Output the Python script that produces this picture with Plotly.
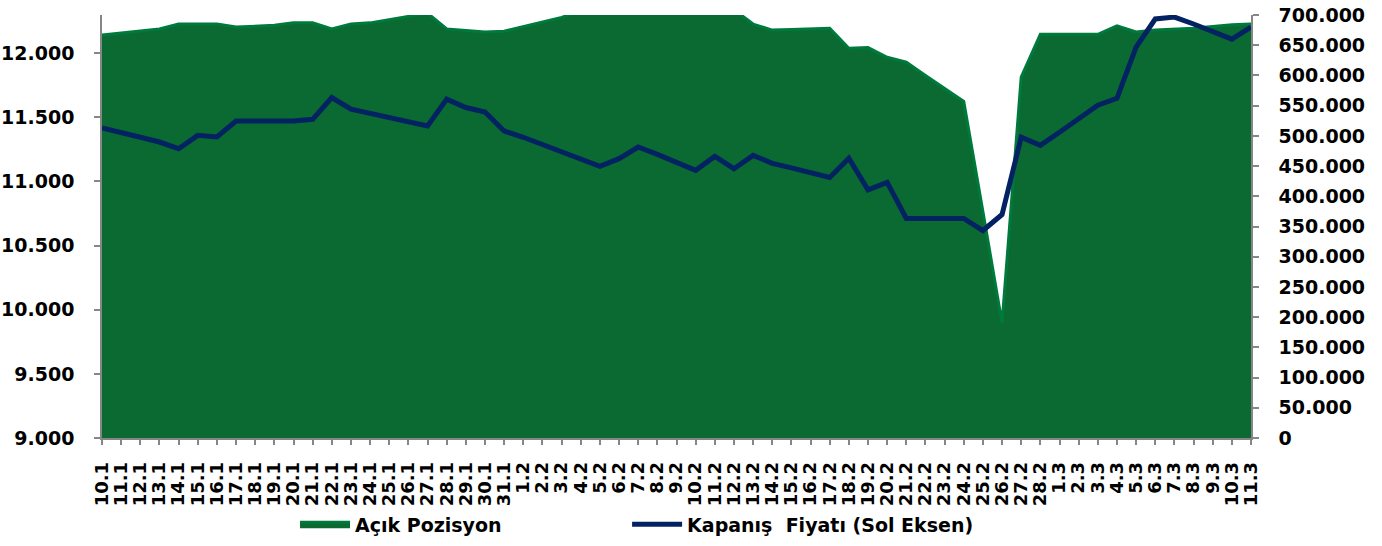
import plotly.graph_objects as go

dates = ["10.1", "11.1", "12.1", "13.1", "14.1", "15.1", "16.1", "17.1", "18.1", "19.1",
         "20.1", "21.1", "22.1", "23.1", "24.1", "25.1", "26.1", "27.1", "28.1", "29.1",
         "30.1", "31.1", "1.2", "2.2", "3.2", "4.2", "5.2", "6.2", "7.2", "8.2",
         "9.2", "10.2", "11.2", "12.2", "13.2", "14.2", "15.2", "16.2", "17.2", "18.2",
         "19.2", "20.2", "21.2", "22.2", "23.2", "24.2", "25.2", "26.2", "27.2", "28.2",
         "1.3", "2.3", "3.3", "4.3", "5.3", "6.3", "7.3", "8.3", "9.3", "10.3", "11.3"]

acik_pozisyon = [667000, 670000, 673000, 677000, 685000, 685000, 685000, 680000, 682000, 683000,
                 687000, 687000, 677000, 685000, 687000, 692000, 697000, 703000, 677000, 674000,
                 672000, 673000, 681000, 689000, 696000, 707000, 712000, 715000, 718000, 720000,
                 718000, 715000, 712000, 709000, 685000, 675000, 676000, 677000, 678000, 645000,
                 646000, 630000, 622000, 600000, 579000, 557000, 375000, 190000, 597000, 668000,
                 668000, 668000, 668000, 682000, 672000, 675000, 676000, 678000, 681000, 684000, 685000]

kapanis = [11416, 11383, 11344, 11307, 11255, 11359, 11346, 11471, 11471, 11471,
           11471, 11484, 11654, 11563, 11531, 11500, 11469, 11432, 11641, 11576,
           11541, 11393, 11344, 11289, 11234, 11180, 11117, 11177, 11268, 11211,
           11148, 11086, 11195, 11099, 11203, 11141, 11105, 11070, 11031, 11180,
           10934, 10992, 10711, 10711, 10711, 10711, 10617, 10742, 11344, 11281,
           11383, 11488, 11594, 11648, 12047, 12266, 12281, 12227, 12164, 12109, 12203]

FONT = "DejaVu Sans"
AXIS_GREY = "#868686"

fig = go.Figure()
fig.add_trace(go.Scatter(
    x=dates, y=acik_pozisyon, name="Açık Pozisyon",
    mode="lines", fill="tozeroy", fillcolor="#0a6a31",
    line=dict(color="#00793c", width=3),
    yaxis="y", legend="legend",
))
fig.add_trace(go.Scatter(
    x=dates, y=kapanis, name="Kapanış\u00a0 Fiyatı (Sol Eksen)",
    mode="lines", line=dict(color="#032262", width=5),
    yaxis="y2", legend="legend2",
))

tickfont = dict(family=FONT, size=19, color="black", weight="bold")
legfont = dict(family=FONT, size=19, color="black", weight="bold")

fig.update_layout(
    width=1382, height=546,
    margin=dict(l=102, r=131, t=15, b=108, autoexpand=False),
    paper_bgcolor="white", plot_bgcolor="white",
    separators=",.",
    showlegend=True,
    legend=dict(orientation="h", x=0.168, y=-0.204, xanchor="left", yanchor="middle",
                font=legfont, itemwidth=50, bgcolor="rgba(0,0,0,0)"),
    legend2=dict(orientation="h", x=0.457, y=-0.204, xanchor="left", yanchor="middle",
                 font=legfont, itemwidth=50, bgcolor="rgba(0,0,0,0)"),
    xaxis=dict(type="category", range=[0, 60], tickmode="linear", dtick=1, automargin=False,
               tickangle=-90, tickfont=dict(family=FONT, size=18, color="black", weight="bold"),
               ticks="outside", ticklen=5, tickcolor=AXIS_GREY, tickwidth=1.5,
               showline=True, linecolor=AXIS_GREY, linewidth=1.5,
               showgrid=False, zeroline=False, ticklabelstandoff=10),
    yaxis=dict(side="right", range=[0, 700000], tickmode="linear", tick0=0, dtick=50000,
               tickformat=",d", tickfont=tickfont, automargin=False,
               ticks="outside", ticklen=6, tickcolor=AXIS_GREY, tickwidth=1.5,
               showline=True, linecolor=AXIS_GREY, linewidth=1.5,
               showgrid=False, zeroline=False, ticklabelstandoff=16),
    yaxis2=dict(side="left", overlaying="y", range=[9000, 12297], tickmode="linear",
                tick0=9000, dtick=500, tickformat=",d", tickfont=tickfont, automargin=False,
                ticks="outside", ticklen=6, tickcolor=AXIS_GREY, tickwidth=1.5,
                showline=True, linecolor=AXIS_GREY, linewidth=1.5,
                showgrid=False, zeroline=False, ticklabelstandoff=16),
)

fig.write_html("out.html", config={"displayModeBar": False},
               post_script="document.body.style.margin='0px';")
